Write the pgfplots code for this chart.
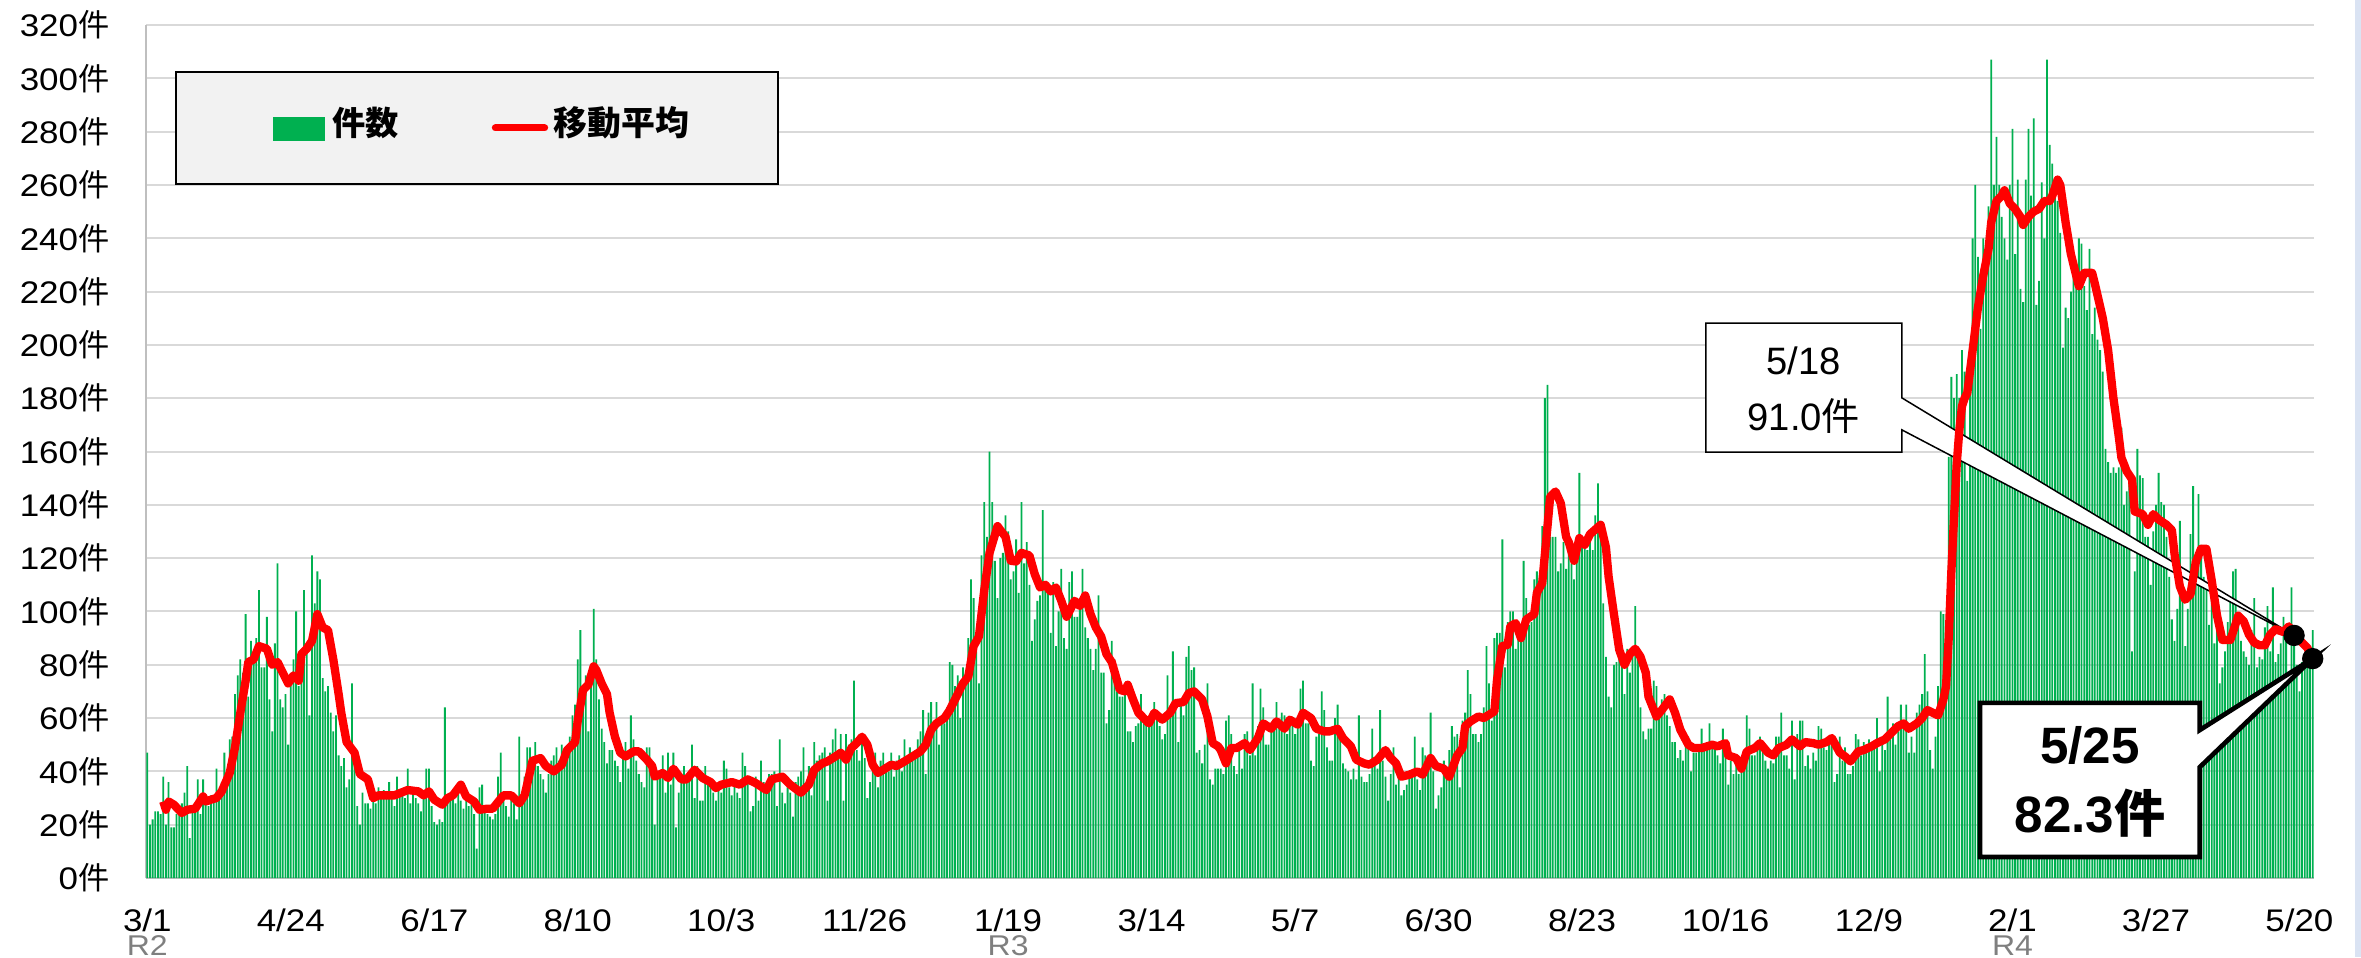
\documentclass[border=0pt]{standalone}
\usepackage{fontspec}
\setmainfont{Liberation Sans}
\newfontfamily\tickfont[FakeStretch=1.12]{Liberation Sans}
\newfontfamily\cjk{Noto Sans CJK JP}
\usepackage{pgfplots}
\usepackage{pgfplotstable}
\pgfplotsset{compat=1.18}
\definecolor{barg}{HTML}{00B050}
\definecolor{gridgray}{HTML}{D9D9D9}
\definecolor{axisgray}{HTML}{BFBFBF}
\definecolor{legfill}{HTML}{F2F2F2}
\definecolor{rgray}{HTML}{7F7F7F}
\definecolor{stripblue}{HTML}{DAE3F3}
\definecolor{mared}{HTML}{FF0000}

\pgfplotstableread[row sep=\\]{v\\
47\\20\\22\\25\\25\\24\\38\\
20\\36\\19\\19\\24\\25\\28\\
32\\42\\15\\25\\28\\37\\24\\
37\\28\\27\\31\\30\\41\\30\\
36\\47\\38\\52\\53\\69\\76\\
82\\77\\99\\68\\89\\84\\90\\
108\\79\\79\\98\\67\\55\\88\\
118\\67\\64\\69\\50\\72\\82\\
100\\72\\75\\108\\87\\61\\121\\
103\\115\\112\\75\\70\\72\\62\\
55\\61\\46\\42\\45\\34\\37\\
73\\45\\27\\20\\32\\28\\28\\
26\\30\\28\\34\\30\\33\\31\\
36\\30\\27\\38\\33\\31\\30\\
41\\28\\33\\30\\28\\25\\32\\
41\\41\\27\\21\\20\\22\\21\\
64\\29\\30\\32\\28\\33\\29\\
26\\31\\27\\30\\24\\11\\34\\
35\\26\\24\\23\\22\\24\\38\\
47\\29\\27\\23\\31\\28\\22\\
53\\31\\38\\49\\49\\40\\51\\
42\\39\\37\\32\\39\\44\\46\\
49\\44\\50\\43\\46\\53\\61\\
65\\82\\93\\69\\76\\55\\80\\
101\\82\\67\\56\\51\\43\\48\\
48\\44\\42\\36\\46\\51\\41\\
61\\52\\44\\39\\36\\34\\49\\
49\\38\\20\\37\\40\\46\\32\\
47\\35\\47\\19\\32\\36\\42\\
36\\38\\50\\30\\42\\29\\29\\
42\\37\\36\\32\\29\\36\\32\\
44\\41\\34\\31\\36\\32\\30\\
47\\42\\36\\25\\27\\38\\29\\
44\\36\\35\\39\\39\\40\\27\\
52\\32\\28\\34\\32\\23\\36\\
38\\40\\49\\32\\42\\31\\51\\
44\\46\\47\\49\\29\\47\\52\\
56\\46\\54\\29\\54\\50\\52\\
74\\48\\44\\51\\45\\30\\36\\
40\\47\\34\\44\\47\\41\\40\\
47\\38\\44\\46\\40\\52\\44\\
49\\44\\48\\52\\55\\63\\39\\
62\\66\\58\\66\\50\\60\\58\\
64\\81\\80\\72\\76\\60\\79\\
77\\90\\112\\105\\85\\73\\121\\
141\\128\\160\\141\\119\\105\\120\\
122\\136\\130\\112\\115\\127\\107\\
141\\118\\126\\110\\89\\97\\104\\
106\\138\\110\\109\\92\\111\\87\\
100\\116\\90\\86\\111\\115\\98\\
98\\105\\116\\94\\90\\86\\78\\
86\\106\\77\\77\\58\\63\\89\\
82\\70\\68\\68\\71\\55\\55\\
51\\57\\58\\69\\58\\59\\58\\
61\\66\\61\\57\\52\\54\\76\\
62\\85\\63\\51\\66\\61\\83\\
87\\78\\79\\47\\48\\43\\50\\
73\\37\\35\\41\\41\\41\\39\\
59\\61\\54\\42\\39\\48\\41\\
54\\55\\46\\73\\46\\57\\71\\
64\\50\\50\\56\\58\\66\\57\\
62\\61\\54\\58\\57\\54\\57\\
71\\74\\58\\58\\44\\42\\53\\
54\\70\\63\\49\\44\\44\\60\\
65\\54\\43\\41\\40\\37\\41\\
37\\61\\38\\36\\36\\39\\56\\
44\\41\\63\\44\\38\\29\\39\\
49\\35\\38\\31\\33\\35\\40\\
38\\53\\37\\33\\49\\46\\42\\
62\\40\\26\\31\\34\\44\\41\\
48\\57\\53\\54\\34\\59\\62\\
78\\69\\54\\54\\51\\54\\64\\
87\\73\\59\\90\\92\\92\\127\\
79\\96\\100\\100\\86\\93\\91\\
119\\105\\95\\96\\112\\115\\109\\
132\\180\\185\\128\\128\\128\\115\\
118\\126\\116\\126\\118\\112\\119\\
152\\124\\124\\123\\128\\123\\136\\
148\\134\\103\\83\\68\\64\\80\\
81\\91\\83\\69\\86\\77\\84\\
102\\83\\64\\55\\52\\56\\56\\
74\\72\\62\\67\\69\\61\\57\\
51\\51\\45\\48\\44\\54\\53\\
40\\47\\47\\49\\56\\48\\51\\
58\\49\\49\\46\\43\\56\\48\\
35\\44\\39\\44\\39\\40\\48\\
61\\56\\46\\46\\50\\53\\51\\
44\\41\\44\\43\\53\\53\\62\\
46\\46\\41\\59\\37\\54\\59\\
59\\42\\46\\41\\47\\44\\57\\
56\\49\\48\\53\\51\\36\\39\\
53\\44\\49\\39\\39\\42\\54\\
52\\46\\51\\50\\52\\48\\51\\
60\\40\\50\\48\\68\\52\\58\\
50\\55\\65\\58\\65\\47\\53\\
47\\62\\65\\69\\84\\70\\48\\
41\\53\\72\\100\\99\\71\\158\\
188\\180\\189\\180\\198\\190\\149\\
198\\240\\260\\233\\206\\240\\226\\
252\\307\\260\\278\\260\\248\\240\\
232\\260\\281\\234\\262\\221\\216\\
262\\281\\256\\285\\215\\224\\261\\
240\\307\\275\\268\\262\\254\\242\\
199\\214\\210\\220\\231\\222\\240\\
238\\222\\213\\236\\204\\214\\202\\
198\\190\\161\\156\\152\\154\\152\\
154\\169\\140\\145\\152\\85\\115\\
161\\151\\150\\128\\128\\110\\130\\
140\\152\\141\\140\\128\\113\\97\\
89\\101\\134\\105\\87\\101\\129\\
147\\115\\144\\125\\113\\111\\95\\
107\\88\\106\\73\\79\\85\\96\\
104\\115\\116\\99\\89\\85\\83\\
80\\93\\105\\79\\83\\82\\94\\
102\\85\\109\\81\\84\\88\\98\\
91\\74\\109\\93\\80\\70\\81\\
83\\84\\85\\93\\
}\daily

\begin{document}
\begin{tikzpicture}
\path[use as bounding box, fill=white] (0,0) rectangle (708.3bp,287.1bp);
\fill[stripblue] (706.5bp,0) rectangle (708.3bp,287.1bp);
\begin{axis}[
  at={(43.8bp,23.7bp)}, anchor=south west,
  width=650.4bp, height=255.9bp, scale only axis,
  xmin=-0.5, xmax=815.5, ymin=0, ymax=320,
  clip=false,
  axis x line*=bottom, axis y line*=left,
  axis line style={-, draw=axisgray, line width=0.7bp},
  ymajorgrids, grid style={draw=gridgray, line width=0.6bp},
  major tick length=0pt,
  ytick={0,20,...,320},
  xtick={0,54,...,810},
  xticklabels={3/1,4/24,6/17,8/10,10/3,11/26,1/19,3/14,5/7,6/30,8/23,10/16,12/9,2/1,3/27,5/20},
  tick label style={font=\tickfont\fontsize{9.4}{11}\selectfont, text=black},
  yticklabel={\pgfmathprintnumber[assume math mode=true]{\tick}{\cjk 件}},
  yticklabel style={anchor=east, inner sep=0pt, xshift=-10.8bp},
  xticklabel style={anchor=base, inner sep=0pt, text depth=0pt, yshift=-15.9bp},
]
\addplot[ybar, bar width=0.68, fill=barg, draw=none] table[x expr=\coordindex, y=v] {\daily};

% callout 5/18
\draw[fill=white, draw=black, line width=0.45bp, line join=miter]
  (axis cs:586.6,208.2) -- (axis cs:660.4,208.2) -- (axis cs:660.4,180.1)
  -- (axis cs:808,91.0) -- (axis cs:660.4,168.1) -- (axis cs:660.4,159.8)
  -- (axis cs:586.6,159.8) -- cycle;
\node[font=\fontsize{11.5}{13}\selectfont, inner sep=0pt] at (axis cs:623.5,194) {5/18};
\node[font=\fontsize{11.5}{13}\selectfont, inner sep=0pt] at (axis cs:623.5,173.3) {91.0{\cjk 件}};

% callout 5/25
\draw[fill=white, draw=black, line width=1.4bp, line join=miter]
  (axis cs:689.8,65.7) -- (axis cs:772.5,65.7) -- (axis cs:772.5,55.5)
  -- (axis cs:815,82.3) -- (axis cs:772.5,41.6) -- (axis cs:772.5,7.9)
  -- (axis cs:689.8,7.9) -- cycle;
\node[font=\bfseries\fontsize{15.4}{17}\selectfont, inner sep=0pt] at (axis cs:731.2,49.9) {5/25};
\node[font=\bfseries\fontsize{15.4}{17}\selectfont, inner sep=0pt] at (axis cs:731.2,24.4) {82.3{\cjk\bfseries 件}};

\addplot[mared, line width=2.5bp, line join=round, no marks] coordinates {
(6,28.7)(7,25.6)(8,28.7)(10,27.5)(13,24.4)(15,25.6)(18,26)(21,30.6)(22,28.7)(24,29.4)(26,30)(28,32.5)(31,39.4)(33,49)(35,62)(37,74)(38,81)(40,82)(42,87)(45,86)(47,80)(49,81)(51,77)(53,73)(55,76)(57,74)(58,84)(60,86)(62,89)(64,99)(66,94)(68,93)(70,82)(72,69)(73,62)(75,51)(78,47)(80,39)(83,37)(85,30)(87,31)(89,31)(93,31)(98,33)(102,32.5)(104,31)(106,32.5)(108,29.4)(111,27.5)(113,30)(115,31)(118,35)(120,30.6)(123,28.7)(125,25.6)(128,26)(130,26)(134,31)(137,31)(140,28)(142,31)(145,44)(148,45)(150,42)(153,40)(156,42.5)(158,48)(161,51)
(162,59)(164,70.6)(166,72.5)(168,79.4)(169,78)(171,73)(173,69)(174,62)(176,53)(178,47)(180,45.6)(183,47.5)(185,47.5)(188,44.4)(190,42)(191,38)(194,39.4)(196,37.5)(198,41)(201,37)(203,37)(206,40.6)(209,37.5)(212,36)(214,33.75)(216,35)(220,36)(223,35)(226,37)(229,35.6)(233,33)(235,37)(239,38)(242,35)(246,32)(249,35)(251,40.6)(254,43)(256,43.75)(259,45.6)(261,47)(263,44.4)(265,48.75)(267,50.6)(269,53)(271,50)(273,42.5)(275,39.4)(277,40.6)(280,42.5)(282,42)(285,43.75)(288,45.6)(291,47.5)(293,50)(295,55.6)(297,58)(300,60)(302,63)(304,67)(307,73)(309,75.6)(311,87)(313,90.6)(315,108)(317,122)(320,132)(321,130.6)(323,128)(325,119)
(327,118.75)(329,122)(332,121)(334,114)(336,109)(338,110)(340,107.5)(342,109)(344,104)(346,98)(349,104)(351,102)(353,106)(355,99)(357,94)(359,90.6)(361,84)(363,81)(366,70.6)(368,70)(369,72.5)(371,67)(373,62)(375,60)(377,58)(379,62)(382,59.4)(385,62)(387,65.6)(390,66)(392,69.4)(394,70)(397,67)(399,60.6)(401,50.6)(403,49.4)(404,48)(406,43)(408,48.75)(410,48.75)(413,50.6)(415,48)(418,52.5)(420,58)(423,56)(425,58.75)(428,56)(430,59.4)(433,57.5)(435,62)(438,60)(440,56)(443,55)(445,55)(448,56)(450,52.5)(453,49.4)(455,44.4)(458,43)(460,42.5)(463,44.4)(466,48)(468,45)(470,43)(472,38)(475,38.75)(478,40)(480,38.75)(483,45)(485,42)(488,41)(490,38)
(493,46)(495,48.75)(496,57)(498,58.75)(501,60.6)(503,60)(507,62.5)(508,74.4)(510,87)(512,87.5)(513,94.4)(515,95.6)(517,90)(519,97)(522,99)(523,107)(525,110.6)(527,132)(528,143)(530,145)(532,140.6)(534,128)(535,126)(537,119)(539,127.5)(541,125)(543,129)(547,132.5)(549,124)(550,113)(552,99)(554,85.6)(556,80)(558,84)(560,86)(562,83)(564,77)(565,68)(568,60.6)(570,63)(573,67)(575,62)(577,55.6)(580,50)(582,48.75)(585,48.75)(589,50)(591,49.4)(594,50.6)(595,46)(598,45)(600,41)(602,47.5)(605,48.75)(607,50.6)(610,47)(612,46)(614,48.75)(617,50)(619,52)(622,49.4)(624,51)(627,50.6)(629,50)(632,51)(634,52.5)(637,47)(639,45.6)(641,43.75)(644,47.5)(646,48)(649,49.4)(651,50.6)
(654,52)(657,55)(659,57)(661,58)(663,56)(666,58)(668,60)(670,63)(672,62)(674,61)(675,64)(676,67)(677,72)(678,90)(679,115)(680,135)(681,155)(682,168)(683,177)(684,180)(685,182)(687,198)(689,214)(691,226)(693,236)(694,246)(696,254)(698,256)(699,258)(701,253)(703,251)(705,248)(706,245)(708,248)(710,250)(712,251)(714,254)(716,254)(717,256)(719,262)(720,260)(722,246)(724,234)(726,226)(727,222)(729,227)(732,227)(733,223)(736,210)(738,198)(740,180)(742,165.7)(743,157.7)(745,152.6)(747,149.6)(748,137.5)(751,136.5)(753,132.5)(755,136.5)(757,134.5)(760,132.5)(762,130.5)(763,121.5)(765,109.4)(767,104.4)(769,106.4)(771,118.5)(773,123.5)(775,123.5)(777,111.5)(779,98.4)(781,89.3)(784,89.3)(785,92.3)(787,98.4)(789,96.4)(791,91.3)(793,88.3)(795,87.3)(797,87.3)(799,91.3)(801,93.3)(804,92.3)(806,94.4)(808,91.0)(810,89.3)(813,86.3)(815,82.3)
};
\addplot[only marks, mark=*, mark size=3bp, black, mark options={fill=black}] coordinates {(808,91.0)(815,82.3)};

\node[anchor=base, yshift=-23.1bp, inner sep=0pt, text height=5.8bp, text depth=0pt, font=\tickfont\fontsize{8.6}{10}\selectfont, text=rgray] at (axis cs:0,0) {R2};
\node[anchor=base, yshift=-23.1bp, inner sep=0pt, text height=5.8bp, text depth=0pt, font=\tickfont\fontsize{8.6}{10}\selectfont, text=rgray] at (axis cs:324,0) {R3};
\node[anchor=base, yshift=-23.1bp, inner sep=0pt, text height=5.8bp, text depth=0pt, font=\tickfont\fontsize{8.6}{10}\selectfont, text=rgray] at (axis cs:702,0) {R4};
\end{axis}

% legend
\draw[fill=legfill, draw=black, line width=0.6bp] (52.8bp,231.9bp) rectangle (233.4bp,265.5bp);
\fill[barg] (81.9bp,244.8bp) rectangle (97.5bp,252bp);
\node[anchor=west, inner sep=0pt, font=\cjk\bfseries\fontsize{10}{12}\selectfont] at (99.6bp,250.3bp) {件数};
\draw[mared, line width=2.1bp, line cap=round] (148.6bp,248.7bp) -- (163.4bp,248.7bp);
\node[anchor=west, inner sep=0pt, font=\cjk\bfseries\fontsize{10.2}{12}\selectfont] at (165.9bp,250.3bp) {移動平均};
\end{tikzpicture}
\end{document}
